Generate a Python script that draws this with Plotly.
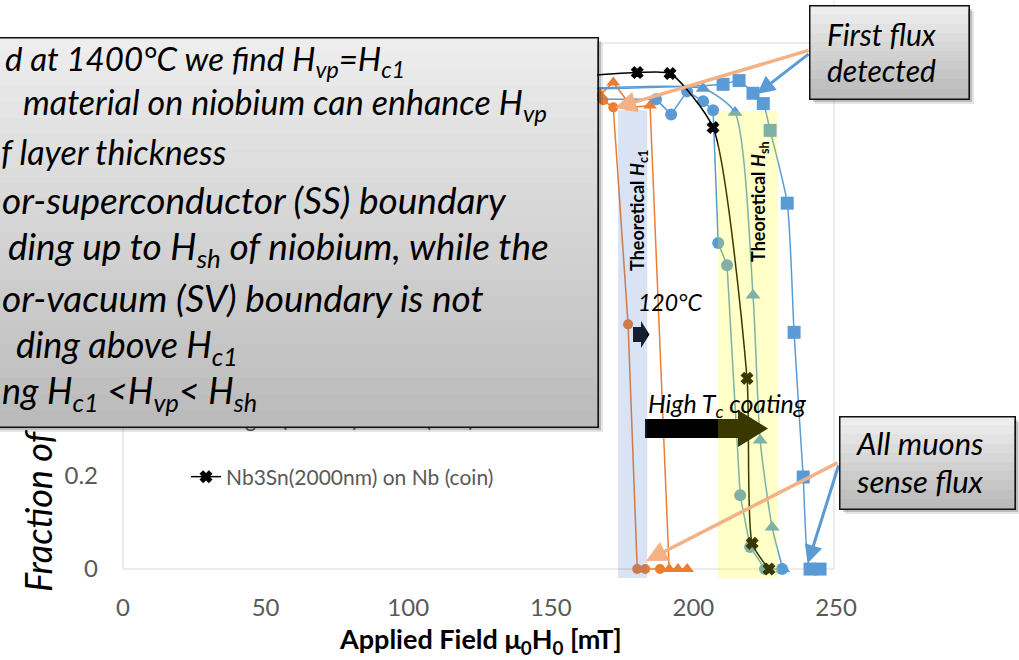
import plotly.graph_objects as go

# ---------------- data (applied field in mT, fraction) ----------------
nb1400_x = [25, 50, 75, 100, 125, 150, 168.4, 171.9, 177.1, 180.3, 183.1, 188.3]
nb1400_y = [1.0, 0.99, 1.01, 1.0, 0.99, 1.0, 0.998, 0.983, 0.521, 0.0, 0.0, 0.0]

nb120_x = [25, 50, 75, 100, 125, 150, 167.3, 171.9, 178.5, 184.8, 191.5, 194.6, 197.8]
nb120_y = [1.0, 1.01, 0.99, 1.0, 1.01, 1.0, 1.01, 1.036, 0.983, 0.987, 0.0, 0.0, 0.0]

nb3sn1000_x = [25, 50, 75, 100, 125, 150, 186.9, 192.2, 197.8, 203.4, 206.9, 208.7, 211.8, 216.4, 219.9, 225.1, 231.1]
nb3sn1000_y = [1.0, 1.0, 1.01, 1.0, 1.0, 1.0, 1.0, 0.968, 1.017, 0.996, 0.977, 0.694, 0.647, 0.157, 0.047, 0.0, 0.0]

mgb2_150_x = [25, 50, 75, 100, 125, 150, 203.4, 214.6, 220.9, 223.4, 227.6, 231.4]
mgb2_150_y = [1.0, 1.01, 1.0, 1.02, 1.01, 1.02, 1.023, 0.972, 0.583, 0.274, 0.089, 0.0]

mgb2_200_x = [25, 50, 75, 100, 125, 150, 210.4, 216.0, 220.9, 224.5, 226.9, 232.9, 235.3, 238.5, 240.9, 244.4]
mgb2_200_y = [1.0, 1.01, 1.02, 1.02, 1.02, 1.02, 1.032, 1.040, 1.013, 0.991, 0.934, 0.779, 0.504, 0.196, 0.0, 0.0]

nb3sn2000_x = [25, 50, 75, 100, 125, 150, 180.3, 191.8, 206.9, 218.8, 220.6, 226.5]
nb3sn2000_y = [1.0, 1.02, 1.03, 1.04, 1.04, 1.045, 1.057, 1.055, 0.94, 0.406, 0.055, 0.0]

series_names = [
    "Nb 1400°C (coin)",
    "Nb 120°C (coin)",
    "Nb3Sn(1000nm) on Nb (coin)",
    "MgB2(150nm) on Nb (coin)",
    "MgB2(200nm) on Nb (coin)",
    "Nb3Sn(2000nm) on Nb (coin)",
]

# theoretical field ranges [mT]
hc1_band = [173.6, 183.8]
hsh_band = [208.6, 229.6]

x_ticks = [0, 50, 100, 150, 200, 250]

# ---------------- geometry helpers ----------------
W, H = 1019, 660
L, R, T, B = 123, 183, 43, 82
X_RANGE = [0, 250]
Y_RANGE = [-0.019, 1.12]


def px(xp):
    return (xp - L) / (W - L - R)


def py(yp):
    return (H - B - yp) / (H - T - B)


ORANGE = "#ed7d31"
BLUE = "#5b9bd5"
FONT = "Lato"

fig = go.Figure()

styles = [
    (nb1400_x, nb1400_y, ORANGE, "circle", 10, "linear"),
    (nb120_x, nb120_y, ORANGE, "triangle-up", 12, "linear"),
    (nb3sn1000_x, nb3sn1000_y, BLUE, "circle", 12, "linear"),
    (mgb2_150_x, mgb2_150_y, BLUE, "triangle-up", 13, "spline"),
    (mgb2_200_x, mgb2_200_y, BLUE, "square", 13, "spline"),
    (nb3sn2000_x, nb3sn2000_y, "#000000", "x", 10, "spline"),
]
for name, (xs, ys, col, sym, size, shp) in zip(series_names, styles):
    fig.add_trace(go.Scatter(
        x=xs, y=ys, name=name, legendgroup=name,
        mode="lines+markers",
        line=dict(color=col, width=1.5, shape=shp, smoothing=0.6),
        marker=dict(symbol=sym, size=size, color=col,
                    line=dict(width=1.2 if sym == "x" else 0, color=col)),
    ))

shapes = []
# plot-area frame
shapes.append(dict(type="rect", xref="paper", yref="paper", x0=0, x1=px(834),
                   y0=py(569), y1=1, line=dict(color="#d9d9d9", width=1), layer="below"))
shapes.append(dict(type="line", xref="paper", yref="paper", x0=px(834), x1=px(834),
                   y0=1, y1=py(0), line=dict(color="#e6e6e6", width=1), layer="below"))


def poly(points):
    return "M " + " L ".join(f"{px(a):.5f},{py(b):.5f}" for a, b in points) + " Z"


# block arrows
shapes.append(dict(type="path", xref="paper", yref="paper", layer="above",
                   path=poly([(633, 327), (641, 327), (641, 321), (649.5, 334.5),
                              (641, 348), (641, 342), (633, 342)]),
                   fillcolor="#0a0a0a", line=dict(width=0)))
shapes.append(dict(type="path", xref="paper", yref="paper", layer="above",
                   path=poly([(645, 419), (738, 419), (738, 410), (768, 428.5),
                              (738, 447), (738, 438), (645, 438)]),
                   fillcolor="#000000", line=dict(width=0)))

# translucent theory bands drawn over the data
shapes.append(dict(type="rect", xref="x", yref="y", layer="above",
                   x0=hc1_band[0], x1=hc1_band[1], y0=Y_RANGE[0], y1=0.977,
                   fillcolor="rgba(68,114,196,0.2)", line=dict(width=0)))
shapes.append(dict(type="rect", xref="x", yref="y", layer="above",
                   x0=hsh_band[0], x1=hsh_band[1], y0=Y_RANGE[0], y1=0.975,
                   fillcolor="rgba(255,255,0,0.22)", line=dict(width=0)))

ann = []
# axis titles
ann.append(dict(xref="paper", yref="paper", x=px(38), y=py(594), xanchor="center", yanchor="bottom",
                textangle=-90, showarrow=False,
                text="<i>Fraction of muons in Meissner state</i>",
                font=dict(family=FONT, size=36, color="#000000")))
ann.append(dict(xref="paper", yref="paper", x=px(480), y=py(640), xanchor="center", yanchor="middle",
                showarrow=False, text="<b>Applied Field μ<sub>0</sub>H<sub>0</sub> [mT]</b>",
                font=dict(family=FONT, size=27, color="#000000")))

# in-plot labels
ann.append(dict(xref="paper", yref="paper", x=px(638), y=py(211), xanchor="center", yanchor="middle",
                textangle=-90, showarrow=False, text="<b>Theoretical <i>H</i><sub>c1</sub></b>",
                font=dict(family=FONT, size=18, color="#000000")))
ann.append(dict(xref="paper", yref="paper", x=px(759), y=py(202), xanchor="center", yanchor="middle",
                textangle=-90, showarrow=False, text="<b>Theoretical <i>H</i><sub>sh</sub></b>",
                font=dict(family=FONT, size=18, color="#000000")))
ann.append(dict(xref="paper", yref="paper", x=px(636), y=py(302), xanchor="left", yanchor="middle",
                showarrow=False, text="<i>120°C</i>",
                font=dict(family=FONT, size=23, color="#000000")))
ann.append(dict(xref="paper", yref="paper", x=px(646), y=py(405), xanchor="left", yanchor="middle",
                showarrow=False, text="<i>High T<sub>c</sub> coating</i>",
                font=dict(family=FONT, size=25, color="#000000")))

# callout arrows
SALMON = "#f4b183"
for (hx, hy, tx, ty, col, wd) in [
    (615, 108, 810, 50, SALMON, 3.5),
    (757, 94, 810, 53, BLUE, 3),
    (646, 561, 839, 462, SALMON, 3.5),
    (808, 563, 839, 464, BLUE, 3),
]:
    ann.append(dict(xref="paper", yref="paper", x=px(hx), y=py(hy), ax=tx - hx, ay=ty - hy,
                    axref="pixel", ayref="pixel", text="", showarrow=True,
                    arrowhead=2, arrowsize=1.2, arrowwidth=wd, arrowcolor=col))


def gray(v):
    v = int(round(v))
    return f"rgb({v},{v},{v})"


def callout_box(x0, y0, x1, y1, top, bottom, n=24):
    items = []
    w, h = x1 - x0, y1 - y0
    # soft drop shadow
    for off, a in [(6, 0.10), (4, 0.18), (2, 0.18)]:
        items.append(dict(xref="paper", yref="paper", x=px(x0 + off), y=py(y0 + off),
                          xanchor="left", yanchor="top", showarrow=False, text=" ",
                          width=w, height=h, borderpad=0, borderwidth=0,
                          bgcolor=f"rgba(0,0,0,{a})"))
    step = h / n
    for i in range(n):
        c = top + (bottom - top) * (i + 0.5) / n
        items.append(dict(xref="paper", yref="paper", x=px(x0), y=py(y0 + i * step),
                          xanchor="left", yanchor="top", showarrow=False, text=" ",
                          width=w, height=step + 1.2, borderpad=0, borderwidth=0,
                          bgcolor=gray(c)))
    items.append(dict(xref="paper", yref="paper", x=px(x0), y=py(y0),
                      xanchor="left", yanchor="top", showarrow=False, text=" ",
                      width=w - 1.5, height=h - 1.5, borderpad=0, borderwidth=1.5,
                      bordercolor="#111111", bgcolor="rgba(0,0,0,0)"))
    return items


def text_lines(lines):
    items = []
    for (x, y, s, size) in lines:
        items.append(dict(xref="paper", yref="paper", x=px(x), y=py(y),
                          xanchor="left", yanchor="middle", showarrow=False,
                          text=f"<i>{s}</i>", font=dict(family=FONT, size=size, color="#000000")))
    return items


# summary box
ann += callout_box(-6, 37, 597, 426, 238, 186)
ann += text_lines([
    (3, 60, "d at 1400°C we find H<sub>vp</sub>=H<sub>c1</sub>", 33),
    (21, 104, "material on niobium can enhance H<sub>vp</sub>", 34),
    (-1, 151, "f layer thickness", 34),
    (0, 199, "or-superconductor (SS) boundary", 37),
    (6, 249, "ding up to H<sub>sh</sub> of niobium, while the", 37),
    (0, 297, "or-vacuum (SV) boundary is not", 37),
    (14, 346, "ding above H<sub>c1</sub>", 36),
    (0, 392, "ng H<sub>c1</sub> &lt;H<sub>vp</sub>&lt; H<sub>sh</sub>", 36),
])

# "First flux detected" box
ann += callout_box(809, 5, 968, 98, 240, 184, n=10)
ann += text_lines([(825, 34, "First flux", 30), (825, 70, "detected", 30)])

# "All muons sense flux" box
ann += callout_box(839, 416, 1014, 508, 240, 184, n=10)
ann += text_lines([(854, 443, "All muons", 31), (854, 481, "sense flux", 31)])

fig.update_layout(
    width=W, height=H,
    margin=dict(l=L, r=R, t=T, b=B),
    paper_bgcolor="white", plot_bgcolor="white",
    font=dict(family=FONT),
    xaxis=dict(range=X_RANGE, tickvals=x_ticks, showgrid=False, zeroline=False, showline=False,
               ticks="", ticklabelstandoff=13,
               tickfont=dict(family=FONT, size=24, color="#595959")),
    yaxis=dict(range=Y_RANGE, dtick=0.2, tick0=0, showgrid=False, zeroline=False, showline=False,
               ticks="", ticklabelstandoff=24,
               tickfont=dict(family=FONT, size=24, color="#595959")),
    legend=dict(x=px(186), y=py(165), xanchor="left", yanchor="top",
                font=dict(family=FONT, size=21, color="#595959"),
                bgcolor="rgba(0,0,0,0)", tracegroupgap=28, itemwidth=30),
    shapes=shapes,
    annotations=ann,
    hovermode=False,
)

fig.write_html("out.html", config={"displayModeBar": False})
